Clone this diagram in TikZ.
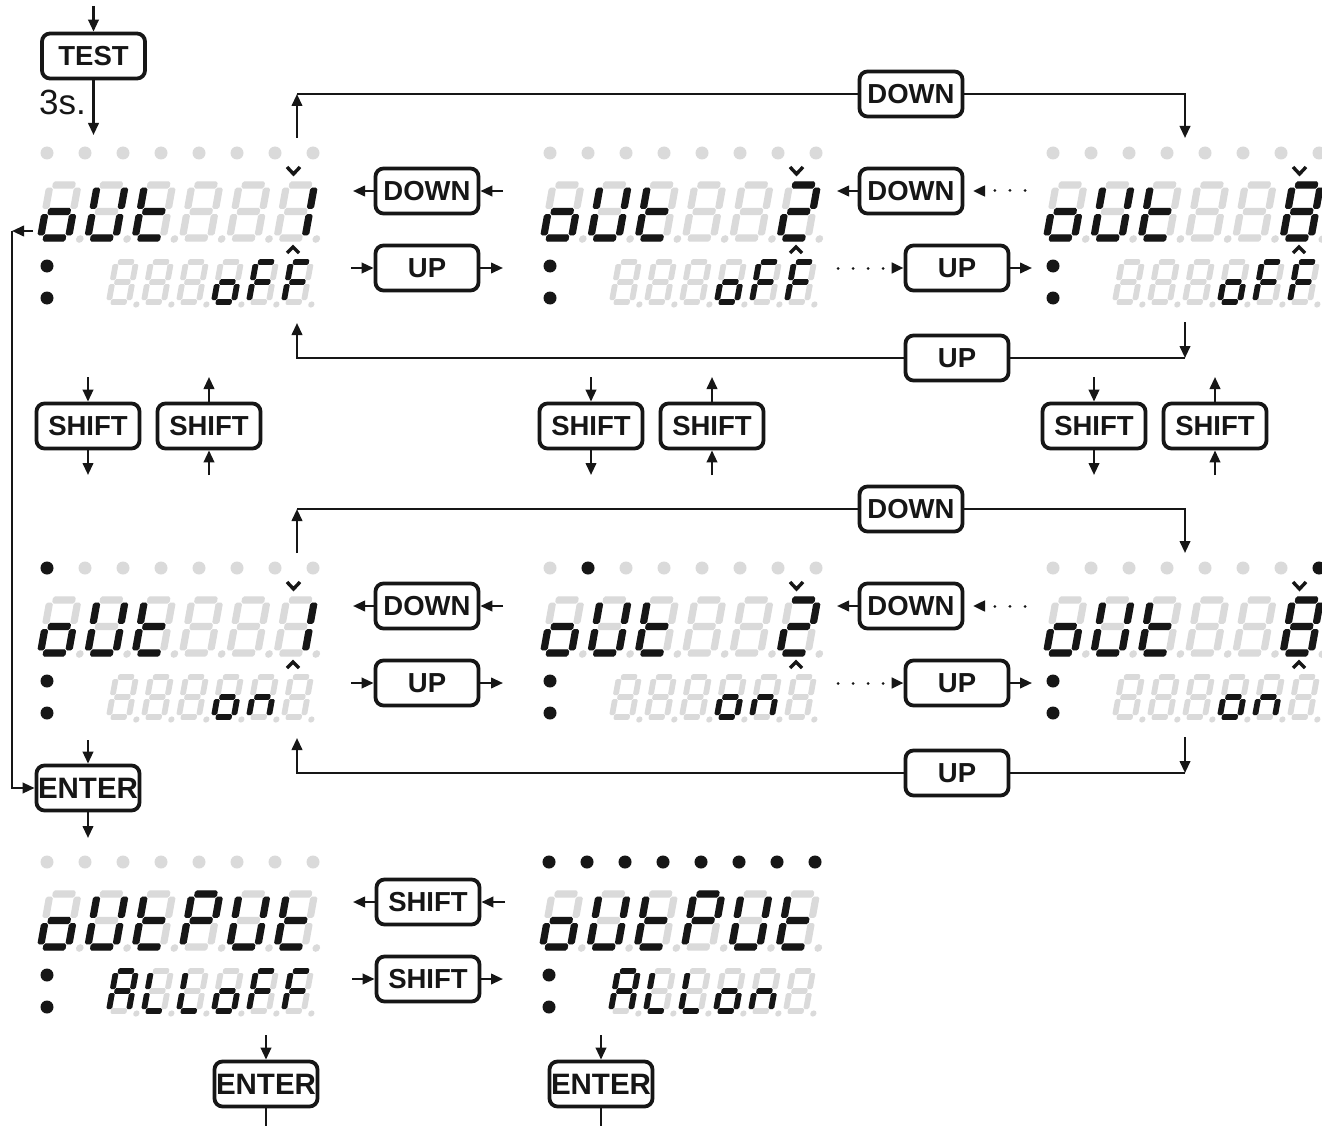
\documentclass[tikz,border=0pt]{standalone}
\usepackage{fontspec}
\setmainfont{Liberation Sans}
\usetikzlibrary{arrows.meta}
\definecolor{segoff}{HTML}{DADADA}
\definecolor{segon}{HTML}{161616}
\def\sW{28}\def\sH{53}\def\sM{26.5}\def\sT{3.3}\def\sG{1.5}\def\sD{11.5}\def\sR{3.6}\def\sY{1}
\newcommand\hsegm[3]{\fill ({#1+\sG},{#3-0.5*\sT}) -- ({#1+\sG+0.5*\sT},{#3-\sT}) -- ({#2-\sG-0.5*\sT},{#3-\sT}) -- ({#2-\sG},{#3-0.5*\sT}) -- ({#2-\sG},{#3+0.5*\sT}) -- ({#2-\sG-0.5*\sT},{#3+\sT}) -- ({#1+\sG+0.5*\sT},{#3+\sT}) -- ({#1+\sG},{#3+0.5*\sT}) -- cycle;}
\newcommand\vsegm[3]{\fill ({#1-0.5*\sT},{#2+\sG}) -- ({#1+0.5*\sT},{#2+\sG}) -- ({#1+\sT},{#2+\sG+0.5*\sT}) -- ({#1+\sT},{#3-\sG-0.5*\sT}) -- ({#1+0.5*\sT},{#3-\sG}) -- ({#1-0.5*\sT},{#3-\sG}) -- ({#1-\sT},{#3-\sG-0.5*\sT}) -- ({#1-\sT},{#2+\sG+0.5*\sT}) -- cycle;}
\def\segA{\hsegm{0}{\sW}{0}}
\def\segB{\vsegm{\sW}{0}{\sM}}
\def\segC{\vsegm{\sW}{\sM}{\sH}}
\def\segD{\hsegm{0}{\sW}{\sH}}
\def\segE{\vsegm{0}{\sM}{\sH}}
\def\segF{\vsegm{0}{0}{\sM}}
\def\segG{\hsegm{0}{\sW}{\sM}}
\def\litsegs#1{\ifx#1\relax\else\csname seg#1\endcsname\expandafter\litsegs\fi}
\newcommand\sdig[3]{%
  \begin{scope}[shift={({#1},{#2})},xslant=0.18]
    \begin{scope}[fill=segoff]\segA\segB\segC\segD\segE\segF\segG
      \fill ({\sW+\sD},{\sH+\sY}) circle (\sR);\end{scope}
    \begin{scope}[fill=segon]\expandafter\litsegs#3\relax\end{scope}
  \end{scope}}
\newcommand\ssdisp[5]{%
  \foreach \k in {0,...,7}{\fill[segoff] ({#1+38*\k},{#2}) circle (6.5);}
  \foreach \k in {#5}{\ifnum\k>-1 \fill[segon] ({#1+38*\k},{#2}) circle (6.5);\fi}
  \fill[segon] ({#1},{#2+113}) circle (6.5) ({#1},{#2+145}) circle (6.5);
  \def\sW{28}\def\sH{53}\def\sM{26.5}\def\sT{3.6}\def\sG{2.6}\def\sD{11.5}\def\sR{3.8}\def\sY{1}
  \foreach \sg [count=\n from 0] in {#3}{\sdig{#1+3+47.3*\n}{#2+32}{\sg}}
  \def\sW{20}\def\sH{40}\def\sM{20}\def\sT{2.9}\def\sG{2}\def\sD{8}\def\sR{3.1}\def\sY{2.5}
  \foreach \sg [count=\n from 0] in {#4}{\sdig{#1+69+35*\n}{#2+109}{\sg}}
}
\newcommand\selmarks[2]{%
  \draw[mk] ({#1+240},{#2+14}) -- ({#1+246.5},{#2+21}) -- ({#1+253},{#2+14});
  \draw[mk] ({#1+240},{#2+100}) -- ({#1+246},{#2+94}) -- ({#1+252},{#2+100});
}
\newcommand\navrow[2]{% #1 dy, #2 suffix
  \node[btn] (dnT#2) at (911,{94+#1}) {DOWN};
  \node[btn] (upB#2) at (957,{358+#1}) {UP};
  \node[btn] (dnA#2) at (427,{191+#1}) {DOWN};
  \node[btn] (upA#2) at (427,{268+#1}) {UP};
  \node[btn] (dnB#2) at (911,{191+#1}) {DOWN};
  \node[btn] (upC#2) at (957,{268+#1}) {UP};
  \coordinate (tA#2) at (297,{138+#1});
  \coordinate (kA#2) at (297,{94+#1});
  \coordinate (tB#2) at (1185,{138+#1});
  \coordinate (bB#2) at (1185,{322+#1});
  \coordinate (kB#2) at (1185,{358+#1});
  \coordinate (bA#2) at (297,{323+#1});
  \coordinate (d1i#2) at (503,{191+#1});
  \coordinate (d1o#2) at (353,{191+#1});
  \coordinate (u1i#2) at (351,{268+#1});
  \coordinate (u1o#2) at (503,{268+#1});
  \coordinate (d2o#2) at (837,{191+#1});
  \coordinate (d2s#2) at (1025,{191+#1});
  \coordinate (d2t#2) at (973,{191+#1});
  \coordinate (u2s#2) at (838,{268+#1});
  \coordinate (u2o#2) at (1032,{268+#1});
  \draw[arr] (tA#2) -- (kA#2);
  \draw[ln] (kA#2) -- (dnT#2.west);
  \draw[arr] (dnT#2.east) -| (tB#2);
  \draw[arr] (bB#2) -- (kB#2);
  \draw[ln] (kB#2) -- (upB#2.east);
  \draw[arr] (upB#2.west) -| (bA#2);
  \draw[arr] (d1i#2) -- (dnA#2.east);
  \draw[arr] (dnA#2.west) -- (d1o#2);
  \draw[arr] (u1i#2) -- (upA#2.west);
  \draw[arr] (upA#2.east) -- (u1o#2);
  \draw[arr] (dnB#2.west) -- (d2o#2);
  \draw[arr,dots] (d2s#2) -- (d2t#2);
  \draw[arr,dots] (u2s#2) -- (upC#2.west);
  \draw[arr] (upC#2.east) -- (u2o#2);
}
\begin{document}
\begin{tikzpicture}[x=1pt,y=-1pt,
  btn/.style={draw=segon,line width=3.8pt,rounded corners=8pt,minimum width=103pt,minimum height=45pt,inner sep=0pt,text=segon,font=\fontsize{27.5}{28}\selectfont\bfseries},
  entbtn/.style={btn,font=\fontsize{29.5}{30}\selectfont\bfseries},
  ln/.style={draw=segon,line width=2.3pt},
  arr/.style={ln,-{Triangle[length=12pt,width=10.5pt]}},
  dots/.style={line cap=round,dash pattern=on 0.01pt off 15pt,line width=3pt},
  mk/.style={draw=segon,line width=3.4pt}]
\useasboundingbox (0,0) rectangle (1322,1126);
\clip (0,0) rectangle (1322,1126);
\fill[white] (0,0) rectangle (1322,1126);
% ---- displays row 1 (off)
\ssdisp{47}{153}{CDEG,BCDEF,DEFG,X,X,BC}{X,X,X,CDEG,AEFG,AEFG}{-1}
\ssdisp{550}{153}{CDEG,BCDEF,DEFG,X,X,ABGED}{X,X,X,CDEG,AEFG,AEFG}{-1}
\ssdisp{1053}{153}{CDEG,BCDEF,DEFG,X,X,ABCDEFG}{X,X,X,CDEG,AEFG,AEFG}{-1}
\selmarks{47}{153}\selmarks{550}{153}\selmarks{1053}{153}
% ---- displays row 2 (on)
\ssdisp{47}{568}{CDEG,BCDEF,DEFG,X,X,BC}{X,X,X,CDEG,CEG,X}{0}
\ssdisp{550}{568}{CDEG,BCDEF,DEFG,X,X,ABGED}{X,X,X,CDEG,CEG,X}{1}
\ssdisp{1053}{568}{CDEG,BCDEF,DEFG,X,X,ABCDEFG}{X,X,X,CDEG,CEG,X}{7}
\selmarks{47}{568}\selmarks{550}{568}\selmarks{1053}{568}
% ---- displays row 3 (output)
\ssdisp{47}{862}{CDEG,BCDEF,DEFG,ABEFG,BCDEF,DEFG}{ABCEFG,DEF,DEF,CDEG,AEFG,AEFG}{-1}
\ssdisp{549}{862}{CDEG,BCDEF,DEFG,ABEFG,BCDEF,DEFG}{ABCEFG,DEF,DEF,CDEG,CEG,X}{0,...,7}
% ---- navigation rows
\navrow{0}{a}
\navrow{415}{b}
% ---- TEST
\node[btn] (test) at (93.5,56) {TEST};
\coordinate (tin) at (93.5,6);
\coordinate (tout) at (93.5,135);
\draw[arr] (tin) -- (test.north);
\draw[arr] (test.south) -- (tout);
\node[anchor=base east,text=segon,font=\fontsize{35}{35}\selectfont,inner sep=0pt] (three) at (86,115) {3s.};
% ---- SHIFT pairs
\foreach \b in {0,1,2}{
  \node[btn] (sd\b) at ({88+503*\b},426) {SHIFT};
  \node[btn] (su\b) at ({209+503*\b},426) {SHIFT};
  \coordinate (sdi\b) at ({88+503*\b},377);
  \coordinate (sdo\b) at ({88+503*\b},475);
  \coordinate (suo\b) at ({209+503*\b},377);
  \coordinate (sui\b) at ({209+503*\b},475);
  \draw[arr] (sdi\b) -- (sd\b.north);
  \draw[arr] (sd\b.south) -- (sdo\b);
  \draw[arr] (su\b.north) -- (suo\b);
  \draw[arr] (sui\b) -- (su\b.south);
}
% ---- left loop and ENTER
\node[entbtn] (ent1) at (88,788) {ENTER};
\coordinate (lp0) at (33,231);
\coordinate (lp1) at (12,231);
\draw[arr] (lp0) -- (lp1);
\draw[arr] (lp1) |- (ent1.west);
\coordinate (e1i) at (88,740);
\coordinate (e1o) at (88,838);
\draw[arr] (e1i) -- (ent1.north);
\draw[arr] (ent1.south) -- (e1o);
% ---- row 3 buttons
\node[btn] (sh1) at (428,902) {SHIFT};
\node[btn] (sh2) at (428,979) {SHIFT};
\coordinate (s1i) at (505,902);
\coordinate (s1o) at (353,902);
\coordinate (s2i) at (352,979);
\coordinate (s2o) at (503,979);
\draw[arr] (s1i) -- (sh1.east);
\draw[arr] (sh1.west) -- (s1o);
\draw[arr] (s2i) -- (sh2.west);
\draw[arr] (sh2.east) -- (s2o);
\node[entbtn] (ent2) at (266,1084) {ENTER};
\node[entbtn] (ent3) at (601,1084) {ENTER};
\coordinate (e2i) at (266,1035);
\coordinate (e2o) at (266,1140);
\coordinate (e3i) at (601,1035);
\coordinate (e3o) at (601,1140);
\draw[arr] (e2i) -- (ent2.north);
\draw[arr] (ent2.south) -- (e2o);
\draw[arr] (e3i) -- (ent3.north);
\draw[arr] (ent3.south) -- (e3o);
\end{tikzpicture}
\end{document}
